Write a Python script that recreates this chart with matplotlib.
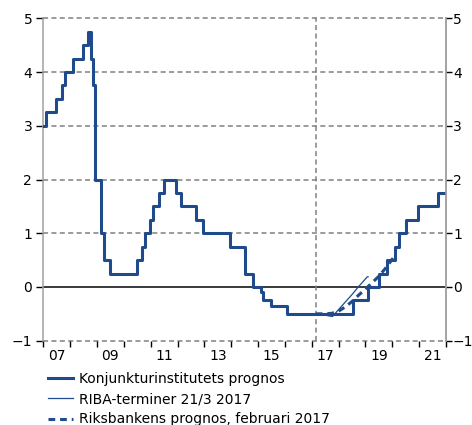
# Reporänta: utfall och prognoser

import numpy as np
import matplotlib
matplotlib.use('Agg')
import matplotlib.pyplot as plt
from matplotlib.lines import Line2D

# Konjunkturinstitutets prognos (utfall + prognos, trappsteg)
ki_t = [2007.00, 2007.09, 2007.46, 2007.68, 2007.81, 2008.12, 2008.49, 2008.67,
        2008.77, 2008.84, 2008.93, 2009.14, 2009.27, 2009.49, 2010.49, 2010.68,
        2010.78, 2010.96, 2011.09, 2011.31, 2011.49, 2011.96, 2012.12, 2012.70,
        2012.95, 2013.94, 2014.50, 2014.81, 2015.12, 2015.18, 2015.49, 2016.07,
        2018.52, 2019.11, 2019.50, 2019.79, 2020.09, 2020.26, 2020.51, 2020.94,
        2021.72, 2021.97]
ki_r = [3.00, 3.25, 3.50, 3.75, 4.00, 4.25, 4.50, 4.75,
        4.25, 3.75, 2.00, 1.00, 0.50, 0.25, 0.50, 0.75,
        1.00, 1.25, 1.50, 1.75, 2.00, 1.75, 1.50, 1.25,
        1.00, 0.75, 0.25, 0.00, -0.10, -0.25, -0.35, -0.50,
        -0.25, 0.00, 0.25, 0.50, 0.75, 1.00, 1.25, 1.50,
        1.75, 1.75]

# RIBA-terminer 21/3 2017
riba_t = [2017.15, 2017.35, 2017.55, 2017.77, 2018.00, 2018.25, 2018.50, 2018.75, 2019.00, 2019.07, 2019.10]
riba_r = [-0.50, -0.51, -0.53, -0.55, -0.42, -0.28, -0.14, 0.01, 0.15, 0.19, 0.19]

# Riksbankens prognos, februari 2017
rb_t = [2017.15, 2017.50, 2017.75, 2018.00, 2018.25, 2018.50, 2018.75, 2019.00, 2019.25, 2019.50, 2019.75, 2020.05]
rb_r = [-0.50, -0.50, -0.49, -0.45, -0.37, -0.27, -0.15, -0.04, 0.08, 0.20, 0.35, 0.55]

year_ticks = np.arange(2007, 2023)
year_labels = ['07', '09', '11', '13', '15', '17', '19', '21']
label_pos = [2007.5, 2009.5, 2011.5, 2013.5, 2015.5, 2017.5, 2019.5, 2021.5]
y_ticks = list(range(-1, 6))
forecast_start = 2017.15

blue = '#1f4a8c'
grid_gray = '#808080'

plt.rcParams['font.family'] = 'DejaVu Sans'
plt.rcParams['font.size'] = 10

fig = plt.figure(figsize=(4.72, 4.25), dpi=100)
ax = fig.add_axes([43.3/472, 1 - 340.7/425, (446 - 43.3)/472, (340.7 - 18.3)/425])

ax.set_xlim(2007, 2022)
ax.set_ylim(-1, 5)

# Rutnät
for v in [-1, 1, 2, 3, 4, 5]:
    ax.axhline(v, color=grid_gray, lw=1.1, ls=(0, (3.3, 2.2)), zorder=1, clip_on=False)
ax.axhline(0, color='#2a2a2a', lw=1.3, zorder=1)
ax.axvline(forecast_start, color=grid_gray, lw=1.1, ls=(0, (3.3, 2.2)), zorder=1)

# Serier
ax.step(ki_t, ki_r, where='post', color=blue, lw=2.2, zorder=3)
ax.plot(riba_t, riba_r, color=blue, lw=0.9, zorder=4)
ax.plot(rb_t, rb_r, color=blue, lw=2.2, ls=(0, (2.2, 1.6)), zorder=4)

# Axlar
for s in ['top', 'bottom']:
    ax.spines[s].set_visible(False)
for s in ['left', 'right']:
    ax.spines[s].set_color('#a0a0a0')
    ax.spines[s].set_linewidth(1.1)

ax.set_yticks(y_ticks)
ax.tick_params(axis='y', left=True, right=False, labelleft=True, labelright=False,
               direction='out', length=5, width=1, color='black', pad=3, labelsize=10)

# Höger axel
ax2 = ax.twinx()
ax2.set_ylim(-1, 5)
ax2.set_yticks(y_ticks)
for s in ['top', 'bottom', 'left']:
    ax2.spines[s].set_visible(False)
ax2.spines['right'].set_color('#a0a0a0')
ax2.spines['right'].set_linewidth(1.1)
ax2.tick_params(axis='y', direction='out', length=4, width=1, color='black', pad=1, labelsize=10)

ax.set_xticks(year_ticks)
ax.set_xticklabels([])
ax.set_xticks(label_pos, minor=True)
ax.set_xticklabels(year_labels, minor=True)
ax.tick_params(axis='x', which='major', direction='out', length=4, width=1, color='black')
ax.tick_params(axis='x', which='minor', length=0, pad=6, labelsize=10)

# Teckenförklaring
handles = [Line2D([], [], color=blue, lw=2.2),
           Line2D([], [], color=blue, lw=0.9),
           Line2D([], [], color=blue, lw=2.2, ls=(0, (2.2, 1.6)))]
labels = ['Konjunkturinstitutets prognos', 'RIBA-terminer 21/3 2017',
          'Riksbankens prognos, februari 2017']
fig.legend(handles, labels, loc='upper left', bbox_to_anchor=(48/472, 1 - 372/425),
           frameon=False, borderpad=0, borderaxespad=0, handlelength=1.8,
           handletextpad=0.45, labelspacing=0.45, fontsize=10)

fig.savefig('out.png', dpi=100)
